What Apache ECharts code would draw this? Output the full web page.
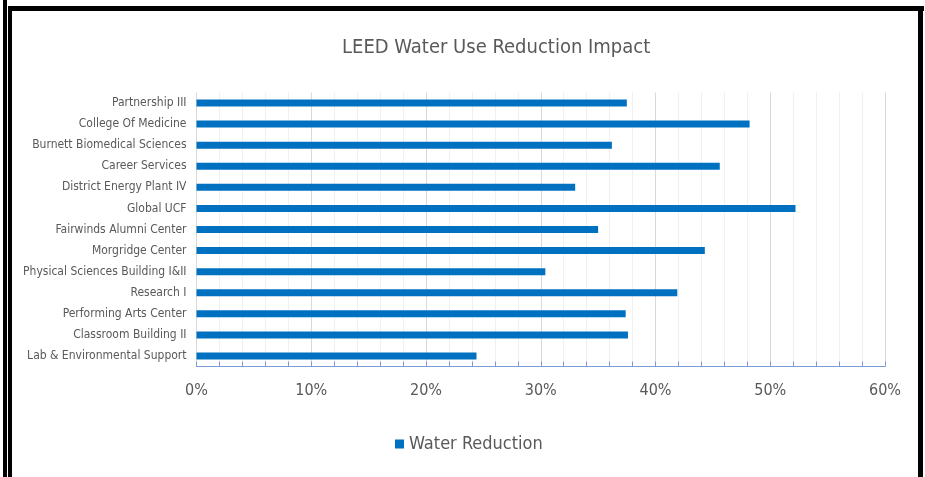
<!DOCTYPE html>
<html>
<head>
<meta charset="utf-8">
<script src="https://cdn.jsdelivr.net/npm/echarts@6/dist/echarts.min.js"></script>
<style>
html,body{margin:0;padding:0;background:#fff;}
#chart{width:925px;height:477px;}
</style>
</head>
<body>
<div id="chart"></div>
<script>
const categories = [
  "Partnership III",
  "College Of Medicine",
  "Burnett Biomedical Sciences",
  "Career Services",
  "District Energy Plant IV",
  "Global UCF",
  "Fairwinds Alumni Center",
  "Morgridge Center",
  "Physical Sciences Building I&II",
  "Research I",
  "Performing Arts Center",
  "Classroom Building II",
  "Lab & Environmental Support"
];
const waterReduction = [37.5, 48.2, 36.2, 45.6, 33.0, 52.2, 35.0, 44.3, 30.4, 41.9, 37.4, 37.6, 24.4];
const seriesName = "Water Reduction";
const titleText = "LEED Water Use Reduction Impact";

const narrow = "'Liberation Sans Narrow','DejaVu Sans Condensed','Arial Narrow',sans-serif";
const chart = echarts.init(document.getElementById('chart'));
chart.setOption({
  backgroundColor: '#ffffff',
  animation: false,
  title: {
    text: titleText,
    left: 337,
    top: 33,
    textStyle: {fontFamily: narrow, fontSize: 20, fontWeight: 'normal', color: '#595959'}
  },
  legend: {
    left: 390,
    top: 430,
    icon: 'rect',
    itemWidth: 9,
    itemHeight: 9,
    itemStyle: {borderWidth: 0},
    textStyle: {fontFamily: narrow, fontSize: 18, color: '#595959'},
    data: [seriesName]
  },
  grid: {left: 196.5, right: 40, top: 92.5, height: 274, containLabel: false},
  xAxis: {
    type: 'value',
    min: 0,
    max: 60,
    interval: 10,
    axisLine: {show: true, lineStyle: {color: '#7b9bd6', width: 1}},
    axisTick: {show: true, inside: true, length: 5, lineStyle: {color: '#7b9bd6'}},
    minorTick: {show: true, splitNumber: 5, length: 5, lineStyle: {color: '#7b9bd6'}},
    splitLine: {show: true, lineStyle: {color: '#d9d9d9', width: 1}},
    minorSplitLine: {show: true, lineStyle: {color: '#f0f0f0', width: 1}},
    axisLabel: {formatter: '{value}%', fontFamily: narrow, fontSize: 16, color: '#595959', margin: 16}
  },
  yAxis: {
    type: 'category',
    inverse: true,
    data: categories,
    axisLine: {show: false},
    axisTick: {show: false},
    splitLine: {show: false},
    axisLabel: {fontFamily: narrow, fontSize: 12, color: '#595959', margin: 10}
  },
  series: [{
    name: seriesName,
    type: 'bar',
    data: waterReduction,
    barWidth: 7,
    itemStyle: {color: '#0070C0'}
  }],
  graphic: [
    {type: 'rect', shape: {x: 3, y: 0, width: 4, height: 477}, style: {fill: '#000'}},
    {type: 'rect', shape: {x: 8, y: 6, width: 4, height: 471}, style: {fill: '#000'}},
    {type: 'rect', shape: {x: 8, y: 6, width: 916, height: 5}, style: {fill: '#000'}},
    {type: 'rect', shape: {x: 918, y: 6, width: 5, height: 471}, style: {fill: '#000'}}
  ]
});
</script>
</body>
</html>
